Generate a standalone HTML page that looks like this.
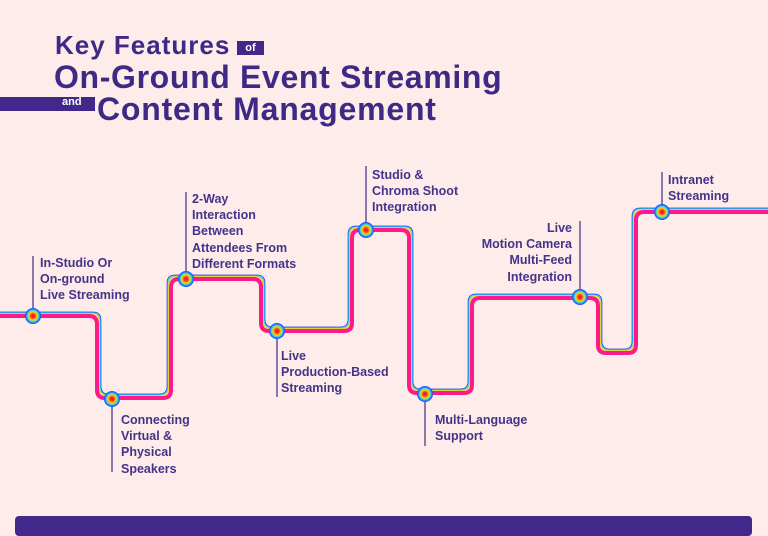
<!DOCTYPE html>
<html><head><meta charset="utf-8"><style>
html,body{margin:0;padding:0;background:#fdecea;}
body{width:768px;height:525px;position:relative;overflow:hidden;font-family:"Liberation Sans",sans-serif;color:#3e2a84;}
.t{position:absolute;font-weight:bold;white-space:nowrap;}
.l{position:absolute;font-weight:bold;font-size:12.5px;line-height:16.2px;white-space:nowrap;color:#45338a;}
</style></head><body>
<div class="t" style="left:55px;top:30px;font-size:26px;letter-spacing:1px">Key Features</div>
<div style="position:absolute;left:237px;top:41px;width:27px;height:14px;background:#42288a;color:#fff;font-size:11px;font-weight:bold;text-align:center;line-height:14px">of</div>
<div class="t" style="left:54px;top:59px;font-size:32px;letter-spacing:0.65px">On-Ground Event Streaming</div>
<div style="position:absolute;left:0;top:97px;width:95px;height:14px;background:#42288a"></div>
<div style="position:absolute;left:62px;top:96px;color:#fff;font-size:11px;font-weight:bold">and</div>
<div class="t" style="left:97px;top:91px;font-size:32px;letter-spacing:0.8px">Content Management</div>
<div style="position:absolute;left:15px;top:516px;width:737px;height:20px;background:#42288a;border-radius:4px"></div>

<svg id="s" width="768" height="525" style="position:absolute;left:0;top:0">
<defs><radialGradient id="g"><stop offset="0" stop-color="#e8003a"/><stop offset="0.3" stop-color="#ff4a1a"/><stop offset="0.5" stop-color="#ffd500"/><stop offset="0.7" stop-color="#3ddcd0"/><stop offset="0.85" stop-color="#1e7bff"/><stop offset="1" stop-color="#2a3cff"/></radialGradient></defs>
<g stroke="#4a3a8a" stroke-width="1.3">
<line x1="33" y1="256" x2="33" y2="316"/>
<line x1="112" y1="399" x2="112" y2="472"/>
<line x1="186" y1="192" x2="186" y2="279"/>
<line x1="277" y1="331" x2="277" y2="397"/>
<line x1="366" y1="166" x2="366" y2="230"/>
<line x1="425" y1="394" x2="425" y2="446"/>
<line x1="580" y1="221" x2="580" y2="297"/>
<line x1="662" y1="172" x2="662" y2="212"/>
</g>
<g id="lines"></g>
<g id="nodes"></g>
</svg>
<div class="l" style="left:40px;top:255px">In-Studio Or<br>On-ground<br>Live Streaming</div>
<div class="l" style="left:121px;top:412px">Connecting<br>Virtual &amp;<br>Physical<br>Speakers</div>
<div class="l" style="left:192px;top:191px">2-Way<br>Interaction<br>Between<br>Attendees From<br>Different Formats</div>
<div class="l" style="left:281px;top:348px">Live<br>Production-Based<br>Streaming</div>
<div class="l" style="left:372px;top:167px">Studio &amp;<br>Chroma Shoot<br>Integration</div>
<div class="l" style="left:435px;top:412px">Multi-Language<br>Support</div>
<div class="l" style="left:460px;top:220px;width:112px;text-align:right">Live<br>Motion Camera<br>Multi-Feed<br>Integration</div>
<div class="l" style="left:668px;top:172px">Intranet<br>Streaming</div>
<script>
var P=[[0,316],[97,316],[97,398],[171,398],[171,279],[261,279],[261,331],[352,331],[352,230],[409,230],[409,393],[472,393],[472,298],[598,298],[598,353],[636,353],[636,212],[768,212]];
function off(d){
 var segs=[];
 for(var i=0;i<P.length-1;i++){
  var a=P[i],b=P[i+1],dx=Math.sign(b[0]-a[0]),dy=Math.sign(b[1]-a[1]);
  var nx=dy,ny=-dx;
  segs.push([[a[0]+nx*d,a[1]+ny*d],[b[0]+nx*d,b[1]+ny*d],dx,dy]);
 }
 var pts=[segs[0][0]];
 for(var i=0;i<segs.length-1;i++){
  var s=segs[i],t=segs[i+1];
  var c = s[2]!==0 ? [t[0][0],s[0][1]] : [s[0][0],t[0][1]];
  pts.push(c);
 }
 pts.push(segs[segs.length-1][1]);
 var r=8,dStr="M"+pts[0][0]+","+pts[0][1];
 for(var i=1;i<pts.length-1;i++){
  var p=pts[i],a=pts[i-1],b=pts[i+1];
  var ux=Math.sign(p[0]-a[0]),uy=Math.sign(p[1]-a[1]),vx=Math.sign(b[0]-p[0]),vy=Math.sign(b[1]-p[1]);
  dStr+=" L"+(p[0]-ux*r)+","+(p[1]-uy*r)+" Q"+p[0]+","+p[1]+" "+(p[0]+vx*r)+","+(p[1]+vy*r);
 }
 var l=pts[pts.length-1];dStr+=" L"+l[0]+","+l[1];
 return dStr;
}
var g=document.getElementById('lines'),h="";
[[3.9,"#2a3cff",0.9],[3.2,"#2ad6e0",0.9],[2.6,"#9ee65a",0.8],[2.1,"#ffd21a",0.8],[0,"#ff1a8c",4]].forEach(function(c){
 h+='<path d="'+off(c[0])+'" fill="none" stroke="'+c[1]+'" stroke-width="'+c[2]+'"/>';
});
g.innerHTML=h;
var N=[[33,316],[112,399],[186,279],[277,331],[366,230],[425,394],[580,297],[662,212]],n="";
N.forEach(function(p){n+='<circle cx="'+p[0]+'" cy="'+p[1]+'" r="8" fill="url(#g)"/>';});
document.getElementById('nodes').innerHTML=n;
</script>
</body></html>
